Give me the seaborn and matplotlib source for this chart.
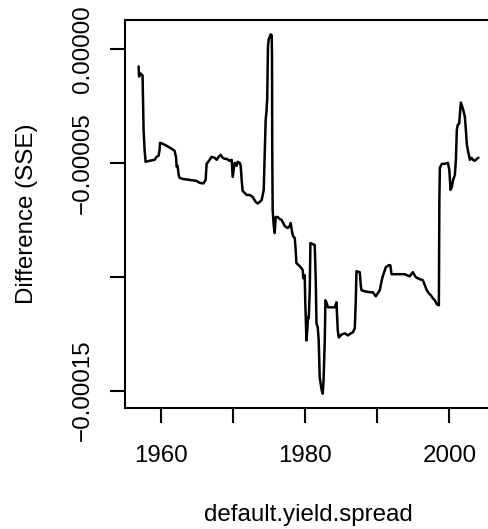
import numpy as np
import pandas as pd
import matplotlib
matplotlib.use("Agg")
import matplotlib.pyplot as plt
import seaborn as sns
from matplotlib.ticker import FixedLocator, FixedFormatter

# Series (year, SSE difference in units of 1e-5)
years = [1956.95, 1957.02, 1957.23, 1957.50, 1957.64, 1957.78, 1957.92, 1958.47, 1959.17, 1959.45,
         1959.72, 1959.86, 1959.93, 1960.28, 1960.83, 1961.53, 1961.94, 1962.15, 1962.22, 1962.36,
         1962.50, 1962.64, 1963.05, 1964.02, 1964.99, 1965.41, 1965.96, 1966.24, 1966.38, 1966.80,
         1967.07, 1967.49, 1967.77, 1968.04, 1968.32, 1968.60, 1968.88, 1969.15, 1969.57, 1969.85,
         1969.99, 1970.13, 1970.26, 1970.54, 1970.68, 1970.96, 1971.10, 1971.23, 1971.37, 1971.65,
         1971.93, 1972.34, 1972.76, 1973.18, 1973.45, 1973.73, 1974.01, 1974.29, 1974.49, 1974.56,
         1974.66, 1974.77, 1974.88, 1974.98, 1975.26, 1975.40, 1975.44, 1975.47, 1975.53, 1975.67,
         1975.81, 1975.88, 1975.95, 1976.23, 1976.51, 1976.78, 1977.20, 1977.61, 1977.89, 1978.03,
         1978.17, 1978.35, 1978.59, 1978.72, 1978.82, 1979.14, 1979.52, 1979.70, 1979.76, 1979.97,
         1980.04, 1980.21, 1980.32, 1980.43, 1980.53, 1980.67, 1980.76, 1981.08, 1981.36, 1981.50,
         1981.60, 1981.78, 1981.91, 1982.05, 1982.33, 1982.47, 1982.58, 1982.75, 1982.84, 1983.02,
         1983.20, 1983.58, 1984.13, 1984.37, 1984.55, 1984.69, 1985.10, 1985.52, 1985.94, 1986.35,
         1986.63, 1986.91, 1987.05, 1987.14, 1987.60, 1987.74, 1987.84, 1988.29, 1988.99, 1989.40,
         1989.82, 1990.10, 1990.37, 1990.65, 1990.79, 1991.21, 1991.62, 1991.83, 1992.00, 1992.45,
         1993.15, 1993.84, 1994.12, 1994.54, 1994.95, 1995.37, 1995.92, 1996.34, 1996.62, 1996.89,
         1997.17, 1997.45, 1997.73, 1998.00, 1998.28, 1998.56, 1998.60, 1998.63, 1998.70, 1998.97,
         1999.39, 1999.81, 2000.01, 2000.18, 2000.36, 2000.54, 2000.78, 2000.92, 2001.05, 2001.19,
         2001.37, 2001.47, 2001.61, 2001.75, 2001.93, 2002.16, 2002.30, 2002.44, 2002.62, 2002.86,
         2003.09, 2003.27, 2003.55, 2003.83, 2004.04]

sse_diff_e5 = [-0.750, -1.192, -1.059, -1.147, -3.530, -4.413, -4.943, -4.898, -4.854, -4.722,
               -4.678, -4.413, -4.104, -4.148, -4.236, -4.369, -4.457, -4.766, -5.163, -5.119,
               -5.516, -5.649, -5.693, -5.737, -5.781, -5.869, -5.891, -5.737, -5.031, -4.854,
               -4.722, -4.766, -4.854, -4.722, -4.634, -4.766, -4.810, -4.810, -4.898, -4.854,
               -5.605, -5.296, -4.987, -5.119, -4.943, -4.987, -5.119, -5.737, -6.222, -6.311,
               -6.399, -6.399, -6.487, -6.708, -6.774, -6.708, -6.620, -6.178, -3.972, -3.089,
               -2.780, -2.207, 0.132, 0.441, 0.662, 0.618, -0.441, -4.413, -7.061, -7.723,
               -8.076, -7.723, -7.370, -7.370, -7.458, -7.502, -7.767, -7.855, -7.767, -7.634,
               -7.943, -8.208, -8.296, -8.826, -9.400, -9.488, -9.620, -9.709, -10.062, -9.929,
               -11.033, -12.798, -12.356, -11.783, -11.827, -10.591, -8.517, -8.561, -8.605, -10.150,
               -12.047, -12.224, -12.798, -14.431, -15.004, -15.137, -14.563, -12.798, -11.033, -11.165,
               -11.342, -11.342, -11.342, -11.121, -12.356, -12.665, -12.533, -12.489, -12.577, -12.489,
               -12.445, -12.268, -11.033, -9.753, -9.797, -10.371, -10.591, -10.635, -10.679, -10.679,
               -10.856, -10.724, -10.591, -10.150, -9.973, -9.576, -9.488, -9.488, -9.885, -9.885,
               -9.885, -9.885, -9.929, -9.973, -9.797, -10.018, -10.106, -10.150, -10.371, -10.591,
               -10.724, -10.812, -10.944, -11.033, -11.209, -11.253, -8.826, -6.620, -5.207, -5.031,
               -5.031, -4.987, -5.296, -6.178, -6.046, -5.737, -5.516, -4.854, -3.530, -3.310,
               -3.266, -2.868, -2.339, -2.471, -2.648, -2.957, -3.530, -4.192, -4.501, -4.854,
               -4.766, -4.854, -4.898, -4.810, -4.766]

x_ticks = [1960, 1970, 1980, 1990, 2000]
x_tick_labels = ["1960", "", "1980", "", "2000"]
y_ticks = [0.0, -0.00005, -0.0001, -0.00015]
y_tick_labels = ["0.00000", "\u22120.00005", "", "\u22120.00015"]
x_label = "default.yield.spread"
y_label = "Difference (SSE)"

df = pd.DataFrame({"year": years, "diff": np.array(sse_diff_e5) * 1e-5})

sns.set_theme(style="white")
plt.rcParams["font.family"] = ["Liberation Sans", "DejaVu Sans"]
plt.rcParams["axes.unicode_minus"] = True

fig = plt.figure(figsize=(4.88, 5.29), dpi=100)
ax = fig.add_axes([125 / 488, 121 / 529, 367 / 488, 388 / 529])

sns.lineplot(data=df, x="year", y="diff", ax=ax, color="black", linewidth=1.8,
             sort=False, estimator=None)

xmin, xmax = min(years), max(years)
ymin, ymax = df["diff"].min(), df["diff"].max()
xr, yr = xmax - xmin, ymax - ymin
ax.set_xlim(xmin - 0.04 * xr, xmax + 0.04 * xr)
ax.set_ylim(ymin - 0.04 * yr, ymax + 0.04 * yr)

ax.xaxis.set_major_locator(FixedLocator(x_ticks))
ax.xaxis.set_major_formatter(FixedFormatter(x_tick_labels))
ax.yaxis.set_major_locator(FixedLocator(y_ticks))
ax.yaxis.set_major_formatter(FixedFormatter(y_tick_labels))

for s in ax.spines.values():
    s.set_visible(True)
    s.set_color("black")
    s.set_linewidth(1.5)

ax.tick_params(axis="both", which="major", direction="out", length=10.5, width=1.5,
               color="black", labelsize=17.4, labelcolor="black")
ax.tick_params(axis="x", pad=16, bottom=True)
ax.tick_params(axis="y", pad=12, left=True)
for lbl in ax.get_yticklabels():
    lbl.set_rotation(90)
    lbl.set_va("center")

ax.set_xlabel(x_label, fontsize=17.4, color="black", labelpad=27)
ax.set_ylabel(y_label, fontsize=17.4, color="black", labelpad=24)
ax.grid(False)

fig.savefig("out.png", dpi=100)
